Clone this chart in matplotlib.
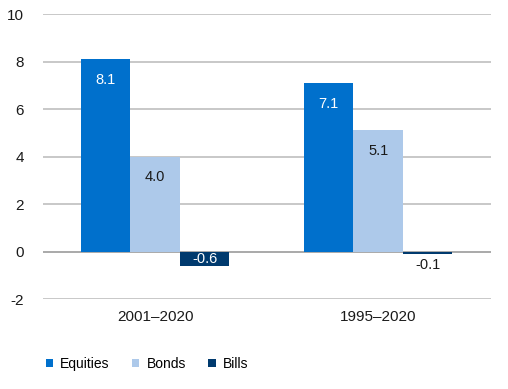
import numpy as np
from matplotlib import pyplot as plt

plt.rcParams['font.family'] = ['Liberation Sans', 'DejaVu Sans']
plt.rcParams['axes.unicode_minus'] = False

periods = ['2001\u20132020', '1995\u20132020']
series = ['Equities', 'Bonds', 'Bills']
equities = [8.1, 7.1]
bonds = [4.0, 5.1]
bills = [-0.6, -0.1]
colors = ['#0070cc', '#adc9ea', '#003a6e']
label_colors = ['white', '#1a1a1a', 'white']

fig = plt.figure(figsize=(5.08, 3.89), dpi=100)
ax = fig.add_axes([0.085, 0.231, 0.882, 0.733])

x = np.arange(len(periods))
width = 0.222
for i, (name, vals) in enumerate(zip(series, [equities, bonds, bills])):
    pos = x + (i - 1) * width
    ax.bar(pos, vals, width, color=colors[i], label=name, zorder=3)
    for p, v in zip(pos, vals):
        if v >= 0:
            ax.annotate(f'{v:.1f}', (p, v), xytext=(0, -15), textcoords='offset points',
                        ha='center', va='center', fontsize=10.5, color=label_colors[i], zorder=4)
        elif v < -0.3:
            ax.annotate(f'{v:.1f}', (p, v / 2), ha='center', va='center',
                        fontsize=10.5, color=label_colors[i], zorder=4)
        else:
            ax.annotate(f'{v:.1f}', (p, v), xytext=(0, -8), textcoords='offset points',
                        ha='center', va='center', fontsize=10.5, color='#1a1a1a', zorder=4)

ax.set_ylim(-2, 10)
ax.set_yticks(range(-2, 11, 2))
ax.set_xlim(-0.502, 1.507)
ax.set_xticks(x)
ax.set_xticklabels(periods)
ax.yaxis.grid(True, color='#bfbfbf', linewidth=1.2, zorder=0)
ax.axhline(0, color='#a6a6a6', linewidth=1.2, zorder=2)
for s in ax.spines.values():
    s.set_visible(False)
ax.tick_params(axis='both', length=0, labelsize=11, colors='#1a1a1a')
ax.tick_params(axis='y', pad=14)
ax.tick_params(axis='x', pad=8)

fig.legend(loc='lower left', bbox_to_anchor=(0.065, 0.015), ncol=3, frameon=False,
           fontsize=10, handlelength=0.55, handleheight=0.55, handletextpad=0.5,
           columnspacing=1.6)

plt.savefig('out.png', dpi=100)
